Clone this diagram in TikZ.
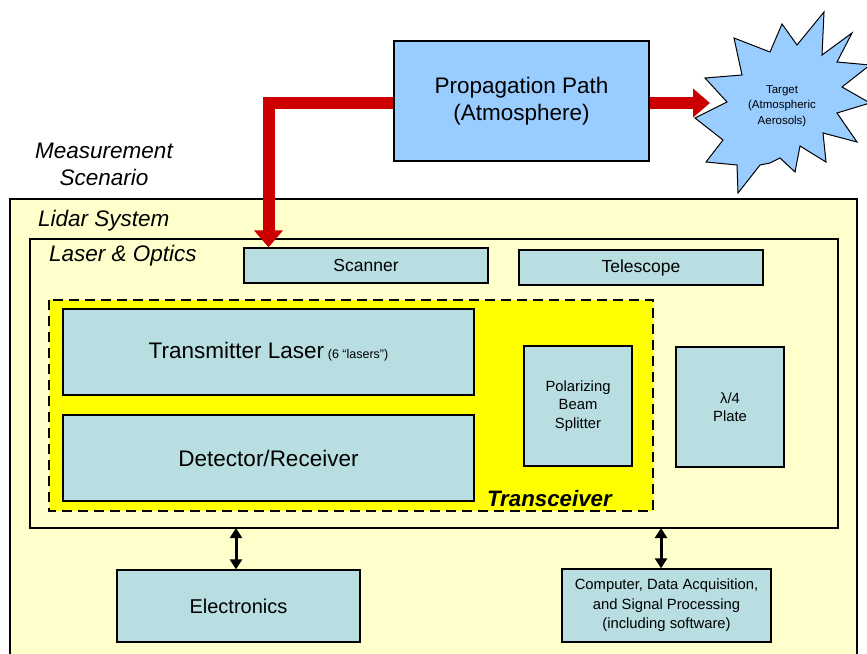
\documentclass[tikz,border=0pt]{standalone}
\usepackage{fontspec}
\setmainfont{Liberation Sans}
\usetikzlibrary{arrows.meta}
\definecolor{lyel}{HTML}{FFFFCC}
\definecolor{yel}{HTML}{FFFF00}
\definecolor{boxc}{HTML}{B8DEE2}
\definecolor{skyb}{HTML}{99CCFF}
\definecolor{redc}{HTML}{CC0000}
\tikzset{
  comp/.style={draw=black, fill=boxc, line width=1.3pt, inner sep=0pt, align=center, text=black},
  grp/.style={draw=black, line width=1.3pt},
  bigf/.style={font=\fontsize{22.5}{27}\selectfont},
  midf/.style={font=\fontsize{17.5}{21}\selectfont},
  smf/.style={font=\fontsize{14.8}{18.5}\selectfont},
  tinyf/.style={font=\fontsize{11.5}{15.5}\selectfont},
  redarrow/.style={draw=redc, line width=12pt, -{Triangle[width=28pt,length=17pt]}},
  dblarrow/.style={draw=black, line width=3pt, {Triangle[width=12pt,length=10pt]}-{Triangle[width=12pt,length=10pt]}}
}
\begin{document}
\begin{tikzpicture}[x=1pt,y=-1pt]
\useasboundingbox (0,0) rectangle (867,653);
\fill[white] (0,0) rectangle (867,653);
% Lidar system
\draw[grp, fill=lyel] (10,199) rectangle (857,665);
\node[font=\fontsize{22.5}{27}\selectfont\itshape, anchor=base west, inner sep=0] (lidarlbl) at (38,226) {Lidar System};
\node[font=\fontsize{22.5}{27}\selectfont\itshape, align=center, anchor=base, inner sep=0] (meas) at (104,185) {Measurement\\Scenario};
% Laser & Optics
\draw[grp, fill=lyel] (30,239) rectangle (838,528);
\node[font=\fontsize{22.5}{27}\selectfont\itshape, anchor=base west, inner sep=0] (lolbl) at (49,261) {Laser \& Optics};
% Transceiver
\draw[draw=black, fill=yel, line width=2.6pt, dash pattern=on 10pt off 6pt] (49,300) rectangle (653,511);
\node[font=\fontsize{22.3}{27}\selectfont\bfseries\itshape, anchor=base east, inner sep=0] (trlbl) at (612,506) {Transceiver};
% Components
\node[comp, bigf, minimum width=411pt, minimum height=86pt] (tx) at (268.5,352) {Transmitter Laser\,{\fontsize{12.5}{14}\selectfont (6 “lasers”)}};
\node[comp, bigf, minimum width=411pt, minimum height=86pt] (det) at (268.5,458) {Detector/Receiver};
\node[comp, smf, minimum width=108pt, minimum height=120pt, text depth=3pt] (pbs) at (578,406) {Polarizing\\Beam\\Splitter};
\node[comp, smf, minimum width=108pt, minimum height=120pt] (qwp) at (730,407) {λ/4\\Plate};
\node[comp, midf, minimum width=244pt, minimum height=35pt] (scan) at (366,265.5) {Scanner};
\node[comp, midf, minimum width=244pt, minimum height=35pt] (tele) at (641,267.5) {Telescope};
\node[comp, font=\fontsize{20}{24}\selectfont, minimum width=243pt, minimum height=72pt] (elec) at (238.5,606) {Electronics};
\node[comp, font=\fontsize{14.8}{19.5}\selectfont, minimum width=209pt, minimum height=73pt] (comp) at (666.5,605.5) {Computer, Data Acquisition,\\and Signal Processing\\(including software)};
% Propagation path
\node[comp, fill=skyb, bigf, minimum width=255pt, minimum height=120pt] (prop) at (521.5,101) {Propagation Path\\(Atmosphere)};
% Target star
\draw[draw=black, fill=skyb, line width=1pt]
 (734,38) -- (770,52) -- (782,24) -- (797,45) -- (824,12) -- (822,55) -- (852,33) -- (837,62)
 -- (870,65) -- (842,87) -- (870,103) -- (837,113) -- (857,142) -- (823,133) -- (826,162)
 -- (800,146) -- (795,172) -- (780,158) -- (770,163) -- (760,165) -- (738,193) -- (737,165)
 -- (706,162) -- (723,140) -- (695,118) -- (727,102) -- (705,78) -- (742,75) -- cycle;
\coordinate (tgtw) at (710,103);
\node[tinyf, align=center, inner sep=0] (tgt) at (782,106) {Target\\(Atmospheric\\Aerosols)};
% Red arrows
\coordinate (bend) at (268.5,103);
\draw[redarrow] (prop.west |- bend) -- (bend) -- (bend |- scan.north);
\draw[redarrow] (prop.east |- bend) -- (tgtw);
% Double arrows
\coordinate (lob1) at (236,528);
\coordinate (lob2) at (661,528);
\draw[dblarrow] (lob1) -- (lob1 |- elec.north);
\draw[dblarrow] (lob2) -- (lob2 |- comp.north);
\end{tikzpicture}
\end{document}
